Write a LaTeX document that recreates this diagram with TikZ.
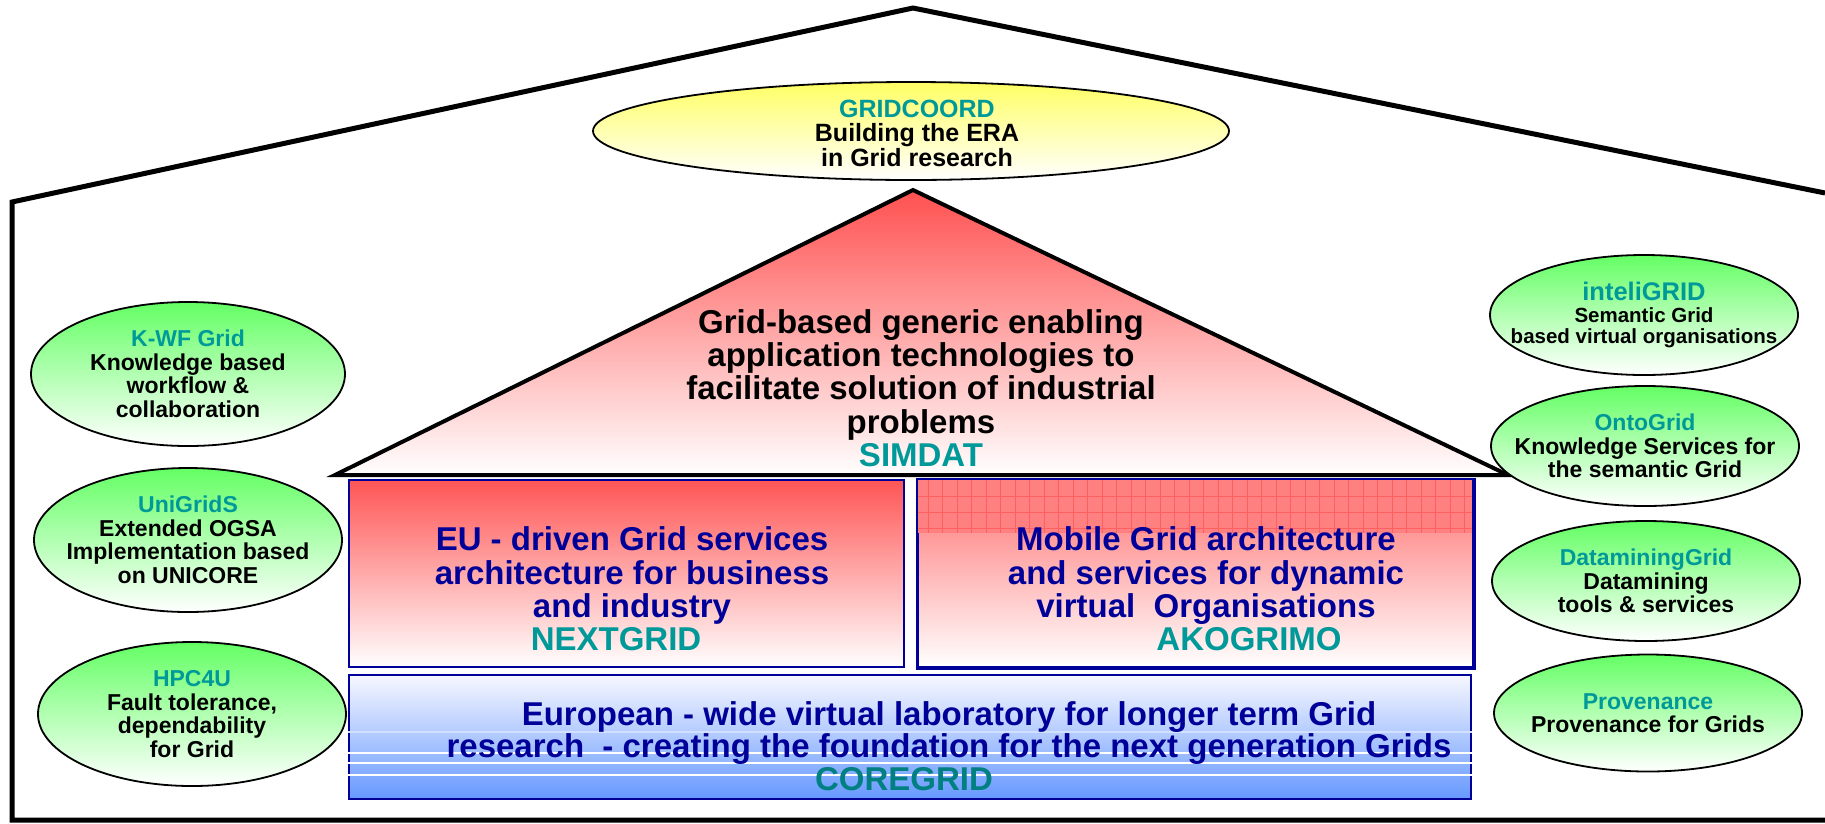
\documentclass[tikz,border=0pt]{standalone}
\usepackage{fontspec}
\setmainfont{Liberation Sans}
\usetikzlibrary{shapes.geometric}

\definecolor{projteal}{RGB}{0,153,153}
\definecolor{coreteal}{RGB}{0,128,128}
\definecolor{boxnavy}{RGB}{0,0,153}
\definecolor{ellgreen}{RGB}{100,255,100}
\definecolor{ellyellow}{RGB}{255,255,100}
\definecolor{simdatred}{RGB}{255,80,80}
\definecolor{nextred}{RGB}{255,85,85}
\definecolor{akored}{RGB}{255,112,112}
\definecolor{akogridfill}{RGB}{255,128,128}
\definecolor{akogridline}{RGB}{255,95,95}
\definecolor{coreblue}{RGB}{102,153,255}

\tikzset{
  greenell/.style={ellipse, draw, line width=1.8pt, top color=ellgreen, bottom color=white,
    inner sep=0pt, minimum width=308pt, minimum height=120pt},
  leftell/.style={greenell, minimum width=314pt, minimum height=144pt},
  elltext/.style={align=center, inner sep=0pt, font=\fontsize{23}{23.5}\selectfont\bfseries},
  projbox/.style={rectangle, draw=boxnavy, line width=2.5pt, inner sep=0pt,
    minimum width=555pt, minimum height=187pt},
  boxtext/.style={align=center, inner sep=0pt, text=boxnavy, font=\fontsize{33}{33.4}\selectfont\bfseries}
}

\begin{document}
\begin{tikzpicture}[x=1pt, y=-1pt]
   \useasboundingbox (0,0) rectangle (1825,823);

   % house outline
   \draw[line width=5pt, line join=miter] (1825,193) -- (913,8) -- (12,202) -- (12,820) -- (1825,820);

   % roof: GRIDCOORD
   \node[ellipse, draw, line width=1.8pt, top color=ellyellow, bottom color=white,
     minimum width=636pt, minimum height=98pt, inner sep=0pt] (gridcoord) at (911,131) {};
   \node[elltext, font=\fontsize{25}{24.5}\selectfont\bfseries] (gridcoordtxt) at (917,133)
     {\textcolor{projteal}{GRIDCOORD}\\Building the ERA\\in Grid research};

   % SIMDAT triangle
   \coordinate (apex) at (913,190);
   \coordinate (baseL) at (335,475);
   \coordinate (baseR) at (1508,475);
   \draw[line width=4pt, top color=simdatred, bottom color=white] (apex) -- (baseR) -- (baseL) -- cycle;
   \node[boxtext, text=black] (simdattxt) at (921,388)
     {Grid-based generic enabling\\application technologies to\\facilitate solution of industrial\\problems\\\textcolor{projteal}{SIMDAT}};

   % middle floor
   \node[projbox, top color=nextred, bottom color=white] (nextgrid) at (626.5,573.5) {};
   \node[projbox, top color=akored, bottom color=white] (akogrimo) at (1195.5,573.5) {};
   \fill[akogridfill] ([shift={(1.5pt,-1.5pt)}]akogrimo.north west) rectangle (1471.5,533);
   \draw[akogridline, line width=0.6pt, xstep=14.5pt, ystep=16pt]
     ([shift={(1.5pt,-1.5pt)}]akogrimo.north west) grid (1471.5,533);
   \draw[boxnavy, line width=2.5pt] (akogrimo.north west) rectangle (akogrimo.south east);
   \node[boxtext] (nextgridtxt) at (632,589)
     {EU - driven Grid services\\architecture for business\\and industry\\\hspace*{-32pt}\textcolor{projteal}{NEXTGRID}};
   \node[boxtext] (akogrimotxt) at (1206,589)
     {Mobile Grid architecture\\and services for dynamic\\virtual\ \ Organisations\\\hspace*{86pt}\textcolor{projteal}{AKOGRIMO}};

   % ground floor: CoreGRID
   \node[projbox, minimum width=1122pt, minimum height=124pt, top color=white!97!blue, bottom color=coreblue] (coregrid) at (910,737) {};
   \draw[white!70!coreblue, line width=1.2pt] (coregrid.west |- 0,732) -- (coregrid.east |- 0,732);
   \draw[white, line width=1.5pt] (coregrid.west |- 0,753) -- (coregrid.east |- 0,753);
   \draw[white, line width=1.5pt] (coregrid.west |- 0,763) -- (coregrid.east |- 0,763);
   \draw[white, line width=1.5pt] (coregrid.west |- 0,775) -- (coregrid.east |- 0,775);
   \node[boxtext, font=\fontsize{33}{32.5}\selectfont\bfseries] (coregridtxt) at (949,746)
     {European - wide virtual laboratory for longer term Grid\\research\ \ - creating the foundation for the next generation Grids\\\hspace*{-90pt}\textcolor{coreteal}{COREGRID}};

   % left wing
   \node[leftell] (kwf) at (188,374) {};
   \node[elltext] (kwftxt) at (kwf) {\textcolor{projteal}{K-WF Grid}\\Knowledge based\\workflow \&\\collaboration};
   \node[leftell, minimum width=308pt] (unigrids) at (188,540) {};
   \node[elltext] (unigridstxt) at (unigrids) {\textcolor{projteal}{UniGridS}\\Extended OGSA\\Implementation based\\on UNICORE};
   \node[leftell, minimum width=308pt] (hpc4u) at (192,714) {};
   \node[elltext] (hpc4utxt) at (hpc4u) {\textcolor{projteal}{HPC4U}\\Fault tolerance,\\dependability\\for Grid};

   % right wing
   \node[greenell] (inteligrid) at (1644,315) {};
   \node[elltext, font=\fontsize{20.5}{21.5}\selectfont\bfseries] (inteligridtxt) at (inteligrid)
     {\textcolor{projteal}{\fontsize{25.5}{21.5}\selectfont inteliGRID}\\Semantic Grid\\based virtual organisations};
   \node[greenell] (ontogrid) at (1645,446) {};
   \node[elltext] (ontogridtxt) at (ontogrid) {\textcolor{projteal}{OntoGrid}\\Knowledge Services for\\the semantic Grid};
   \node[greenell] (dmgrid) at (1646,581) {};
   \node[elltext] (dmgridtxt) at (dmgrid) {\textcolor{projteal}{DataminingGrid}\\Datamining\\tools \& services};
   \node[greenell, minimum height=117pt] (provenance) at (1648,713) {};
   \node[elltext] (provenancetxt) at (provenance) {\textcolor{projteal}{Provenance}\\Provenance for Grids};
\end{tikzpicture}
\end{document}
